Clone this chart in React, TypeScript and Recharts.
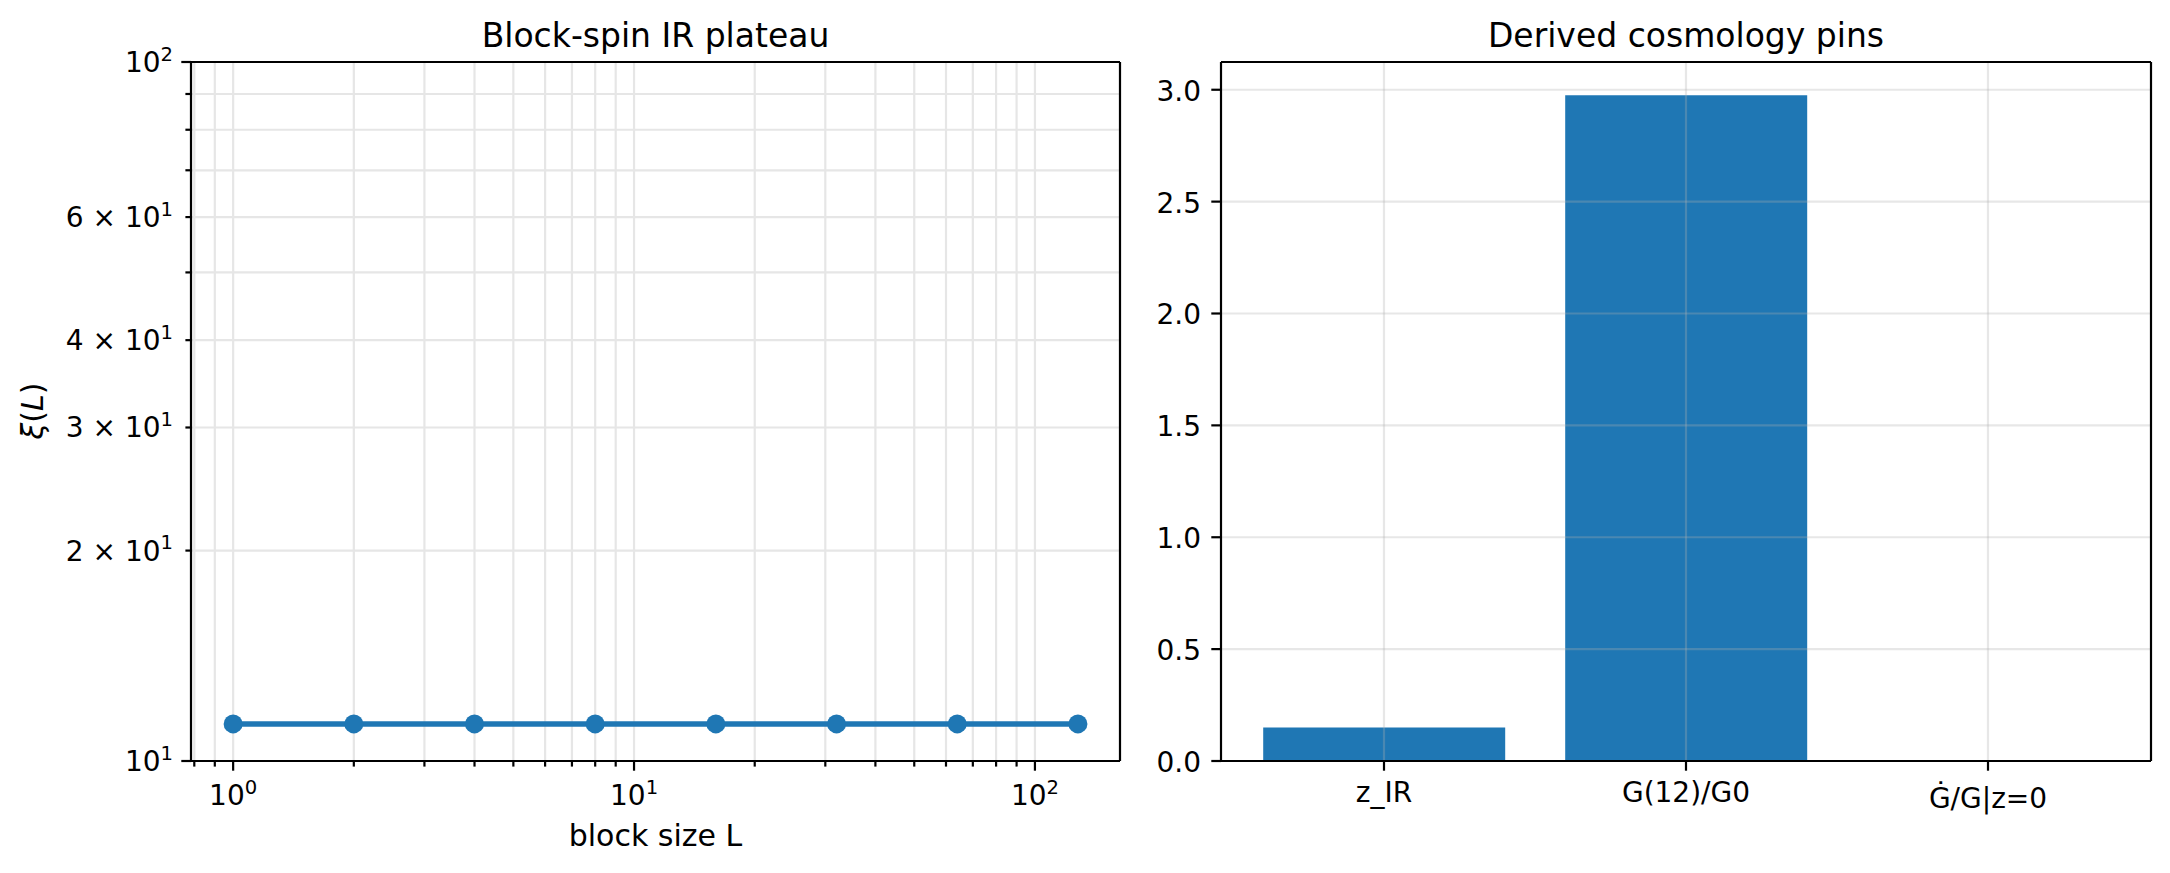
import { LineChart, Line, BarChart, Bar, XAxis, YAxis, CartesianGrid, ReferenceLine } from 'recharts';

// block-spin plateau
const BLOCK_SIZES = [1, 2, 4, 8, 16, 32, 64, 128];
const XI_VALUES = [11.3, 11.3, 11.3, 11.3, 11.3, 11.3, 11.3, 11.3];
const X_TICKS = [0.8, 0.9, 1, 2, 3, 4, 5, 6, 7, 8, 9, 10, 20, 30, 40, 50, 60, 70, 80, 90, 100];
const X_MAJOR: Record<number, string> = { 1: '0', 10: '1', 100: '2' };
const Y_TICKS = [10, 20, 30, 40, 50, 60, 70, 80, 90, 100];
const Y_MAJOR: Record<number, string> = { 10: '1', 100: '2' };
const Y_MINOR_LABELS: Record<number, string> = { 20: '2', 30: '3', 40: '4', 60: '6' };
const X_DOMAIN = [0.785, 163];
const Y_DOMAIN = [10, 100];

// cosmology pins
const PIN_NAMES = ['z_IR', 'G(12)/G0', 'Ġ/G|z=0'];
const PIN_VALUES = [0.15, 2.975, 0];
const PIN_TICKS = [0, 0.5, 1, 1.5, 2, 2.5, 3];
const PIN_MAX = 3.124;

const plateau = BLOCK_SIZES.map((L, i) => ({ L, xi: XI_VALUES[i] }));
const pins = PIN_NAMES.map((name, i) => ({ name, value: PIN_VALUES[i] }));

const FONT = '"DejaVu Sans", sans-serif';
const BLUE = '#1f77b4';
const GRID = '#e6e6e6';
const FS = 28;
const LABEL_FS = 30;
const SUP = 19.6;
const MAJOR_LEN = 9.7;
const MINOR_LEN = 5.6;
const SPINE = 2.2;

const LogXTick = ({ x, y, payload }: any) => {
  const v = payload.value;
  const exp = X_MAJOR[v];
  return (
    <g>
      <line x1={x} y1={y} x2={x} y2={y + (exp ? MAJOR_LEN : MINOR_LEN)} stroke="#000" strokeWidth={SPINE} />
      {exp && (
        <text x={x} y={y + 44} textAnchor="middle" fontSize={FS} fontFamily={FONT} fill="#000">
          10<tspan dy={-11.5} fontSize={SUP}>{exp}</tspan>
        </text>
      )}
    </g>
  );
};

const LogYTick = ({ x, y, payload }: any) => {
  const v = payload.value;
  const exp = Y_MAJOR[v];
  const mant = Y_MINOR_LABELS[v];
  return (
    <g>
      <line x1={x} y1={y} x2={x - (exp ? MAJOR_LEN : MINOR_LEN)} y2={y} stroke="#000" strokeWidth={SPINE} />
      {(exp || mant) && (
        <text x={x - 18} y={y + 10} textAnchor="end" fontSize={FS} fontFamily={FONT} fill="#000">
          {mant ? `${mant} × 10` : '10'}
          <tspan dy={-11.5} fontSize={SUP}>{exp || '1'}</tspan>
        </text>
      )}
    </g>
  );
};

const PinXTick = ({ x, y, payload }: any) => {
  const dotted = payload.value.startsWith('Ġ');
  return (
    <g>
      <line x1={x} y1={y} x2={x} y2={y + MAJOR_LEN} stroke="#000" strokeWidth={SPINE} />
      <text x={x} y={y + (dotted ? 47 : 41)} textAnchor="middle" fontSize={FS} fontFamily={FONT} fill="#000">
        {payload.value}
      </text>
    </g>
  );
};

const PinYTick = ({ x, y, payload }: any) => (
  <g>
    <line x1={x} y1={y} x2={x - MAJOR_LEN} y2={y} stroke="#000" strokeWidth={SPINE} />
    <text x={x - 20} y={y + 11} textAnchor="end" fontSize={FS} fontFamily={FONT} fill="#000">
      {payload.value.toFixed(1)}
    </text>
  </g>
);

const spine = { stroke: '#000', strokeWidth: SPINE };

export default function App() {
  return (
    <div style={{ position: 'absolute', left: 0, top: 0, width: 2170, height: 873, background: '#fff' }}>
      <div style={{ position: 'absolute', left: 0, top: 0 }}>
        <LineChart width={1130} height={873} data={plateau} margin={{ top: 61, right: 9, bottom: 0, left: 0 }}>
          <CartesianGrid stroke={GRID} strokeWidth={SPINE} />
          <XAxis
            dataKey="L"
            type="number"
            scale="log"
            domain={X_DOMAIN}
            allowDataOverflow
            ticks={X_TICKS}
            interval={0}
            tick={<LogXTick />}
            tickSize={0}
            tickMargin={0}
            tickLine={false}
            height={112}
            axisLine={spine}
          />
          <XAxis xAxisId="top" orientation="top" dataKey="L" type="number" scale="log" domain={X_DOMAIN} allowDataOverflow tick={false} tickLine={false} height={1} axisLine={spine} />
          <YAxis
            type="number"
            scale="log"
            domain={Y_DOMAIN}
            allowDataOverflow
            ticks={Y_TICKS}
            interval={0}
            tick={<LogYTick />}
            tickSize={0}
            tickMargin={0}
            tickLine={false}
            width={191}
            axisLine={spine}
          />
          <YAxis yAxisId="right" orientation="right" type="number" scale="log" domain={Y_DOMAIN} allowDataOverflow tick={false} tickLine={false} width={1} axisLine={spine} />
          <Line
            dataKey="xi"
            stroke={BLUE}
            strokeWidth={5.5}
            dot={{ r: 9.5, fill: BLUE, stroke: 'none' }}
            activeDot={false}
            isAnimationActive={false}
          />
        </LineChart>
      </div>
      <div style={{ position: 'absolute', left: 1130, top: 0 }}>
        <BarChart width={1040} height={873} data={pins} margin={{ top: 61, right: 18, bottom: 0, left: 0 }} barCategoryGap="10%">
          <XAxis
            dataKey="name"
            padding={{ left: 12, right: 12 }}
            tick={<PinXTick />}
            tickSize={0}
            tickMargin={0}
            tickLine={false}
            interval={0}
            height={112}
            axisLine={spine}
          />
          <XAxis xAxisId="top" orientation="top" dataKey="name" padding={{ left: 12, right: 12 }} tick={false} tickLine={false} height={1} axisLine={spine} />
          <YAxis
            type="number"
            domain={[0, PIN_MAX]}
            allowDataOverflow
            ticks={PIN_TICKS}
            interval={0}
            tick={<PinYTick />}
            tickSize={0}
            tickMargin={0}
            tickLine={false}
            width={91}
            axisLine={spine}
          />
          <YAxis yAxisId="right" orientation="right" type="number" domain={[0, PIN_MAX]} allowDataOverflow tick={false} tickLine={false} width={1} axisLine={spine} />
          <Bar dataKey="value" fill={BLUE} isAnimationActive={false} />
          {PIN_TICKS.slice(1).map(t => (
            <ReferenceLine key={`h${t}`} y={t} stroke="#b0b0b0" strokeOpacity={0.3} strokeWidth={SPINE} />
          ))}
          {PIN_NAMES.map(n => (
            <ReferenceLine key={`v${n}`} x={n} stroke="#b0b0b0" strokeOpacity={0.3} strokeWidth={SPINE} />
          ))}
        </BarChart>
      </div>
      <svg width={2170} height={873} style={{ position: 'absolute', left: 0, top: 0, pointerEvents: 'none' }} fontFamily={FONT}>
        <text x={655.5} y={47} textAnchor="middle" fontSize={33}>Block-spin IR plateau</text>
        <text x={1686} y={47} textAnchor="middle" fontSize={33}>Derived cosmology pins</text>
        <text x={655.5} y={846} textAnchor="middle" fontSize={LABEL_FS}>block size L</text>
        <text x={43} y={411} textAnchor="middle" fontSize={LABEL_FS} transform="rotate(-90, 43, 411)">
          <tspan fontStyle="italic">ξ</tspan>(<tspan fontStyle="italic">L</tspan>)
        </text>
      </svg>
    </div>
  );
}
